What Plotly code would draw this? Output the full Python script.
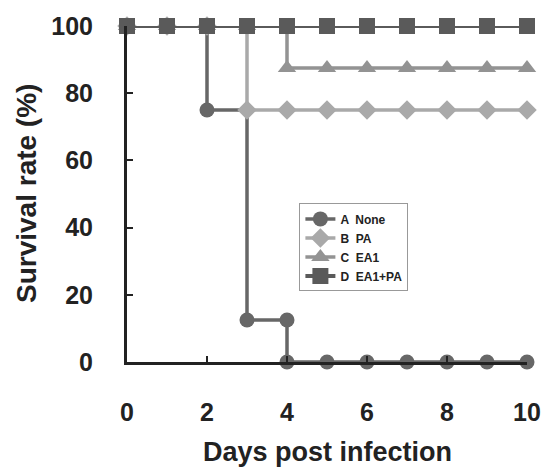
import plotly.graph_objects as go

# Data
days = [0, 1, 2, 3, 4, 5, 6, 7, 8, 9, 10]
a_days = [0, 1, 2, 3, 4, 4, 5, 6, 7, 8, 9, 10]
a_none = [100, 100, 75, 12.5, 12.5, 0, 0, 0, 0, 0, 0, 0]
b_pa = [100, 100, 100, 75, 75, 75, 75, 75, 75, 75, 75]
c_ea1 = [100, 100, 100, 100, 87.5, 87.5, 87.5, 87.5, 87.5, 87.5, 87.5]
d_ea1_pa = [100, 100, 100, 100, 100, 100, 100, 100, 100, 100, 100]
x_ticks = [0, 2, 4, 6, 8, 10]
y_ticks = [0, 20, 40, 60, 80, 100]

FONT = "Arial, Liberation Sans, sans-serif"

series = [
    ("A  None", a_days, a_none, "#676767", "circle", 15, 3.5),
    ("B  PA", days, b_pa, "#a9a9a9", "diamond", 15, 3.5),
    ("C  EA1", days, c_ea1, "#939393", "triangle-up", 16, 3.5),
    ("D  EA1+PA", days, d_ea1_pa, "#5a5a5a", "square", 16, 4),
]

fig = go.Figure()
for name, xs, ys, col, sym, ms, lw in series:
    fig.add_trace(go.Scatter(
        x=xs, y=ys, name=name, mode="lines+markers",
        line=dict(color=col, width=lw, shape="hv"),
        marker=dict(color=col, symbol=sym, size=ms, line=dict(width=0)),
        cliponaxis=False,
    ))

fig.update_layout(
    width=553, height=469,
    margin=dict(l=127, r=18, t=25, b=107),
    plot_bgcolor="white", paper_bgcolor="white",
    showlegend=True,
    legend=dict(
        x=0.431, y=0.472, xanchor="left", yanchor="top",
        bgcolor="white", bordercolor="#999999", borderwidth=1,
        font=dict(family=FONT, size=12, color="#222222", weight=700),
        itemwidth=30, tracegroupgap=0,
    ),
    font=dict(family=FONT, color="#222222"),
)
fig.update_xaxes(
    range=[0, 10], tickvals=x_ticks, ticktext=[str(v) for v in x_ticks],
    showgrid=False, zeroline=False,
    showline=True, linecolor="#222222", linewidth=3,
    ticks="inside", ticklen=6, tickwidth=2, tickcolor="#222222",
    tickfont=dict(family=FONT, size=25, color="#222222", weight=700),
    ticklabelstandoff=26,
)
fig.update_yaxes(
    range=[0, 100], tickvals=y_ticks, ticktext=[str(v) for v in y_ticks],
    showgrid=False, zeroline=False,
    showline=True, linecolor="#222222", linewidth=3,
    ticks="inside", ticklen=6, tickwidth=2, tickcolor="#222222",
    tickfont=dict(family=FONT, size=25, color="#222222", weight=700),
    ticklabelstandoff=26,
)
fig.add_annotation(
    text="Days post infection", xref="paper", yref="paper",
    x=0.5, y=0, xanchor="center", yanchor="middle", yshift=-90,
    showarrow=False, font=dict(family=FONT, size=27, color="#222222", weight=700),
)
fig.add_annotation(
    text="Survival rate (%)", xref="paper", yref="paper",
    x=0, y=0.5, xanchor="center", yanchor="middle", xshift=-101, textangle=-90,
    showarrow=False, font=dict(family=FONT, size=28, color="#222222", weight=700),
)

fig.write_html("out.html")
